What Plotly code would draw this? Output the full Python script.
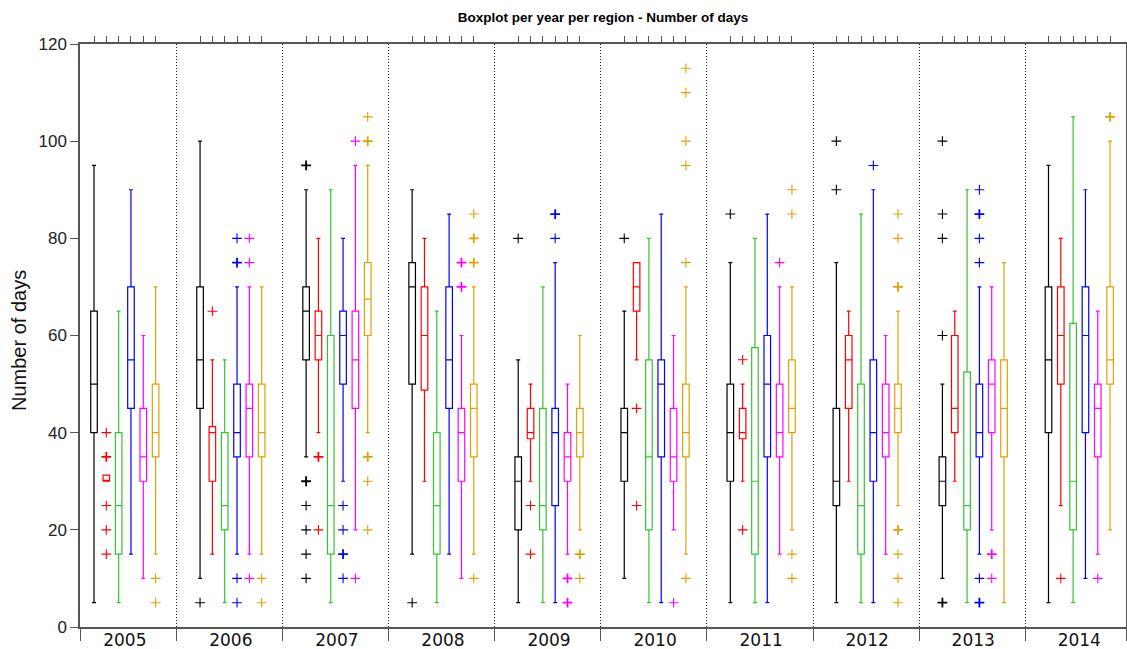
import plotly.graph_objects as go
from collections import Counter

# ---------------------------------------------------------------- data
years = [2005, 2006, 2007, 2008, 2009, 2010, 2011, 2012, 2013, 2014]
regions = ["Region 1", "Region 2", "Region 3", "Region 4", "Region 5", "Region 6"]
colors = ["#000000", "#ff0000", "#33c433", "#0000ff", "#ff00ff", "#dca300"]

# box statistics per region, one value per year
lower_r1 = [5, 10, 35, 15, 5, 10, 5, 5, 10, 5]
q1_r1 = [40, 45, 55, 50, 20, 30, 30, 25, 25, 40]
med_r1 = [50, 55, 65, 70, 30, 40, 40, 30, 30, 55]
q3_r1 = [65, 70, 70, 75, 35, 45, 50, 45, 35, 70]
upper_r1 = [95, 100, 90, 90, 55, 65, 75, 75, 50, 95]

lower_r2 = [30, 15, 40, 30, 30, 55, 30, 30, 30, 25]
q1_r2 = [30, 30, 55, 48.75, 38.75, 65, 38.75, 45, 40, 50]
med_r2 = [30, 40, 60, 60, 40, 70, 40, 55, 45, 60]
q3_r2 = [31.25, 41.25, 65, 70, 45, 75, 45, 60, 60, 70]
upper_r2 = [31.25, 55, 80, 80, 50, 75, 50, 65, 65, 80]

lower_r3 = [5, 5, 5, 5, 5, 5, 5, 5, 5, 5]
q1_r3 = [15, 20, 15, 15, 20, 20, 15, 15, 20, 20]
med_r3 = [25, 25, 25, 25, 25, 35, 30, 25, 25, 30]
q3_r3 = [40, 40, 60, 40, 45, 55, 57.5, 50, 52.5, 62.5]
upper_r3 = [65, 55, 90, 65, 70, 80, 80, 85, 90, 105]

lower_r4 = [15, 15, 30, 15, 5, 5, 5, 5, 15, 10]
q1_r4 = [45, 35, 50, 45, 25, 35, 35, 30, 35, 40]
med_r4 = [55, 40, 60, 55, 40, 50, 50, 40, 40, 60]
q3_r4 = [70, 50, 65, 70, 45, 55, 60, 55, 50, 70]
upper_r4 = [90, 70, 80, 85, 75, 85, 85, 90, 70, 90]

lower_r5 = [10, 15, 20, 10, 15, 20, 15, 15, 20, 15]
q1_r5 = [30, 35, 45, 30, 30, 30, 35, 35, 40, 35]
med_r5 = [35, 45, 55, 40, 35, 35, 40, 40, 50, 45]
q3_r5 = [45, 50, 65, 45, 40, 45, 50, 50, 55, 50]
upper_r5 = [60, 70, 95, 60, 50, 60, 70, 60, 70, 65]

lower_r6 = [15, 15, 40, 15, 20, 15, 20, 25, 5, 20]
q1_r6 = [35, 35, 60, 35, 35, 35, 40, 40, 35, 50]
med_r6 = [40, 40, 67.5, 45, 40, 40, 45, 45, 45, 55]
q3_r6 = [50, 50, 75, 50, 45, 50, 55, 50, 55, 70]
upper_r6 = [70, 70, 95, 70, 60, 70, 70, 65, 75, 100]

# outliers per region (repeated values = several stations with the same count)
outliers_r1 = {2006: [5], 2007: [95, 95, 30, 30, 25, 20, 15, 10], 2008: [5],
               2009: [80], 2010: [80], 2011: [85], 2012: [100, 90],
               2013: [100, 85, 80, 60, 5, 5]}
outliers_r2 = {2005: [40, 35, 35, 25, 20, 15], 2006: [65], 2007: [35, 35, 20],
               2009: [25, 15], 2010: [45, 25], 2011: [55, 20], 2014: [10]}
outliers_r3 = {}
outliers_r4 = {2006: [80, 75, 75, 10, 5], 2007: [25, 20, 15, 15, 10],
               2009: [85, 85, 80], 2012: [95],
               2013: [90, 85, 85, 80, 75, 10, 5, 5]}
outliers_r5 = {2006: [80, 75, 10], 2007: [100, 10], 2008: [75, 75, 70, 70],
               2009: [10, 10, 5, 5], 2010: [5], 2011: [75], 2013: [15, 15, 10],
               2014: [10]}
outliers_r6 = {2005: [10, 5], 2006: [10, 5], 2007: [105, 100, 100, 35, 35, 30, 20],
               2008: [85, 80, 80, 75, 75, 10], 2009: [15, 15, 10],
               2010: [115, 110, 100, 95, 75, 10], 2011: [90, 85, 15, 10],
               2012: [85, 80, 70, 70, 20, 20, 15, 10, 5], 2014: [105, 105]}

stats = [
    (lower_r1, q1_r1, med_r1, q3_r1, upper_r1, outliers_r1),
    (lower_r2, q1_r2, med_r2, q3_r2, upper_r2, outliers_r2),
    (lower_r3, q1_r3, med_r3, q3_r3, upper_r3, outliers_r3),
    (lower_r4, q1_r4, med_r4, q3_r4, upper_r4, outliers_r4),
    (lower_r5, q1_r5, med_r5, q3_r5, upper_r5, outliers_r5),
    (lower_r6, q1_r6, med_r6, q3_r6, upper_r6, outliers_r6),
]

# ---------------------------------------------------------------- layout helpers
STEP = 0.1162          # horizontal offset between regions inside a year group
X0, X1 = 2004.868, 2014.731
SEP_OFF = 0.78         # separator position after each year
LABEL_OFF = 2.5 * STEP # year label at the centre of its group

fig = go.Figure()

box_positions = []
for r, (lo, q1, med, q3, hi, outl) in enumerate(stats):
    xs = [y + r * STEP for y in years]
    box_positions += xs
    fig.add_trace(go.Box(
        x=xs, lowerfence=lo, q1=q1, median=med, q3=q3, upperfence=hi,
        name=regions[r], boxpoints=False, width=0.062, whiskerwidth=0.6,
        line=dict(color=colors[r], width=1.2),
        fillcolor="rgba(0,0,0,0)", hoverinfo="skip",
    ))
    ox, oy, ow = [], [], []
    for yr, vals in outl.items():
        for v, n in Counter(vals).items():
            ox.append(yr + r * STEP)
            oy.append(v)
            ow.append(1.1 if n == 1 else 1.8)
    if ox:
        fig.add_trace(go.Scatter(
            x=ox, y=oy, mode="markers", name=regions[r], hoverinfo="skip",
            marker=dict(symbol="cross-thin", size=7, color=colors[r],
                        line=dict(color=colors[r], width=ow)),
        ))

# empty traces so the helper axes are laid out
fig.add_trace(go.Scatter(x=[], y=[], xaxis="x2", showlegend=False))
fig.add_trace(go.Scatter(x=[], y=[], xaxis="x3", showlegend=False))

separators = [X0] + [y + SEP_OFF for y in years[:-1]] + [X1]
axis_col = "#555555"

fig.update_layout(
    width=1127, height=649,
    margin=dict(l=80, r=1, t=44, b=22, autoexpand=False),
    paper_bgcolor="white", plot_bgcolor="white",
    showlegend=False,
    title=dict(text="<b>Boxplot per year per region - Number of days</b>",
               font=dict(family="Liberation Sans", size=13.5, color="#000"),
               x=0.5, xref="paper", xanchor="center",
               y=1 - 17 / 649, yanchor="middle"),
    xaxis=dict(range=[X0, X1], tickmode="array", automargin=False,
               tickvals=[y + LABEL_OFF for y in years],
               ticktext=[str(y) for y in years],
               ticks="", showgrid=False, zeroline=False,
               showline=True, mirror=True, linecolor=axis_col, linewidth=1.5,
               tickfont=dict(family="DejaVu Sans", size=17, color="#111"),
               ticklabelstandoff=-3),
    xaxis2=dict(overlaying="x", side="bottom", anchor="y", range=[X0, X1],
                automargin=False,
                tickmode="array", tickvals=separators, ticks="outside",
                ticklen=13, tickwidth=1.2, tickcolor=axis_col,
                showticklabels=False, showgrid=True, gridcolor="#222222",
                gridwidth=1, griddash="1px,2px", zeroline=False, showline=False),
    xaxis3=dict(overlaying="x", side="top", anchor="y", range=[X0, X1],
                automargin=False,
                tickmode="array", tickvals=box_positions, ticks="outside",
                ticklen=7, tickwidth=1.2, tickcolor=axis_col,
                showticklabels=False, showgrid=False, zeroline=False,
                showline=False),
    yaxis=dict(range=[0, 120], tickmode="array", automargin=False,
               tickvals=[0, 20, 40, 60, 80, 100, 120],
               ticks="outside", ticklen=8, tickwidth=1.2, tickcolor=axis_col,
               showline=True, mirror="ticks", linecolor=axis_col, linewidth=1.5,
               showgrid=False, zeroline=False,
               tickfont=dict(family="Liberation Sans", size=17, color="#222")),
    annotations=[dict(text="Number of days", textangle=-90,
                      xref="paper", yref="paper",
                      x=(19 - 80) / 1046, y=(627 - 341) / 583,
                      xanchor="center", yanchor="middle", showarrow=False,
                      font=dict(family="Liberation Sans", size=20, color="#111"))],
)

fig.write_html("out.html")
